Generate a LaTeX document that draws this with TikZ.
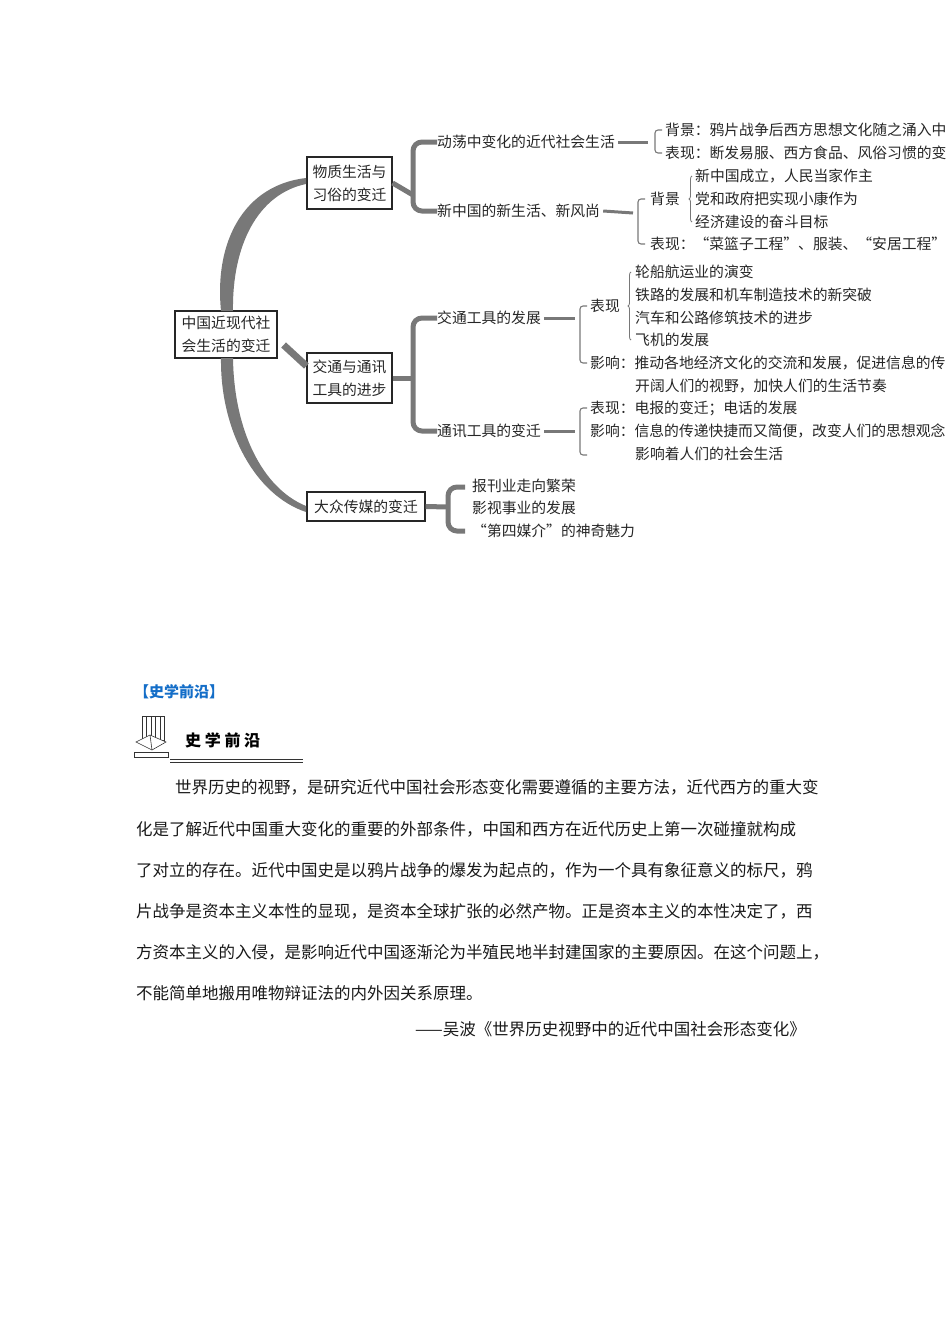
\documentclass[tikz,border=0pt]{standalone}
\usepackage{fontspec}
\setmainfont{Noto Sans CJK SC}
\usetikzlibrary{decorations.pathreplacing}
\definecolor{lg}{RGB}{120,120,120}
\definecolor{hb}{RGB}{20,110,200}
\begin{document}
\begin{tikzpicture}[x=1pt,y=-1pt,
 t/.style={anchor=west,inner sep=0pt,font=\fontsize{14.8}{17}\selectfont,text=black!85},
 bx/.style={draw=black!85,line width=1.2pt,inner sep=3pt,align=center,font=\fontsize{14.8}{23}\selectfont,text=black!85},
 thick/.style={draw=lg,line width=5pt,rounded corners=9pt},
 thin/.style={draw=lg,line width=1.1pt,rounded corners=3pt},
 cb/.style={draw=lg,line width=0.8pt,decorate,decoration={brace,mirror,amplitude=3pt}},
 p/.style={anchor=west,inner sep=0pt,font=\fontsize{16.5}{20}\selectfont,text=black!90}]
\useasboundingbox (0,0) rectangle (950,1344);
% level 1
\node[bx,minimum width=102pt,minimum height=47pt] (root) at (226,334.5) {中国近现代社\\会生活的变迁};
\node[bx,minimum width=85pt,minimum height=52pt] (b1) at (349.5,183) {物质生活与\\习俗的变迁};
\node[bx,minimum width=85pt,minimum height=50pt] (b2) at (349.5,378) {交通与通讯\\工具的进步};
\node[bx,minimum width=118pt,minimum height=29pt] (b3) at (366,506.5) {大众传媒的变迁};
% arcs
\fill[lg] (221,311) .. controls (214,240) and (245,185) .. (306,178) -- (306,184) .. controls (258,194) and (232,245) .. (233,311) -- cycle;
\fill[lg] (221,358) .. controls (220,430) and (255,495) .. (306,512) -- (306,506) .. controls (262,488) and (234,430) .. (233,358) -- cycle;
\draw[lg,line width=7pt] (root.east|-0,345) ++(6,0) -- (b2.west|-0,366);
% level 2
\node[t] (a1) at (437,142) {动荡中变化的近代社会生活};
\node[t] (a2) at (437,211) {新中国的新生活、新风尚};
\node[t] (a3) at (437,318) {交通工具的发展};
\node[t] (a4) at (437,431) {通讯工具的变迁};
\draw[thick] (a1.west) -| (413,211) -- (a2.west);
\draw[lg,line width=5pt] (b1.east) -- (413,195);
\draw[thick] (a3.west) -| (413,431) -- (a4.west);
\draw[lg,line width=5pt] (b2.east) -- (413,378);
\node[t] (m1) at (472,486) {报刊业走向繁荣};
\node[t] (m2) at (472,508) {影视事业的发展};
\node[t] (m3) at (472,531) {“第四媒介”的神奇魅力};
\draw[thick] (465,487) -| (448,531) -- (465,531);
\draw[lg,line width=5pt] (b3.east) -- (448,507);
% branch 1
\draw[lg,line width=3pt] (a1.east) ++(3,0) -- (648,142);
\draw[thin] (662,130) -| (655,153) -- (662,153);
\node[t] at (665,130) {背景：鸦片战争后西方思想文化随之涌入中};
\node[t] at (665,153) {表现：断发易服、西方食品、风俗习惯的变};
% branch 2
\draw[lg,line width=3pt] (a2.east) ++(3,0) -- (633,213);
\draw[thin] (645,199) -| (638,244) -- (645,244);
\node[t] at (650,199) {背景};
\draw[cb] (692,176) -- (692,222);
\node[t] at (695,176) {新中国成立，人民当家作主};
\node[t] at (695,199) {党和政府把实现小康作为};
\node[t] at (695,222) {经济建设的奋斗目标};
\node[t] at (650,244) {表现：“菜篮子工程”、服装、“安居工程”};
% branch 3
\draw[lg,line width=3pt] (a3.east) ++(3,0) -- (575,318);
\draw[thin] (587,306) -| (580,363) -- (587,363);
\node[t] at (590,306) {表现};
\draw[cb] (631,272) -- (631,340);
\node[t] at (635,272) {轮船航运业的演变};
\node[t] at (635,295) {铁路的发展和机车制造技术的新突破};
\node[t] at (635,318) {汽车和公路修筑技术的进步};
\node[t] at (635,340) {飞机的发展};
\node[t] at (590,363) {影响：推动各地经济文化的交流和发展，促进信息的传};
\node[t] at (635,386) {开阔人们的视野，加快人们的生活节奏};
% branch 4
\draw[lg,line width=3pt] (a4.east) ++(3,0) -- (575,431);
\draw[thin] (587,408) -| (580,455) -- (587,455);
\node[t] at (590,408) {表现：电报的变迁；电话的发展};
\node[t] at (590,431) {影响：信息的传递快捷而又简便，改变人们的思想观念};
\node[t] at (635,454) {影响着人们的社会生活};
% lower part
\node[anchor=west,inner sep=0pt,font=\fontsize{15}{18}\selectfont\bfseries,text=hb] (hd) at (134,692) {【史学前沿】};
% icon
\begin{scope}[draw=black!80,line width=0.6pt]
\foreach \i in {0,1,2,3,4}{\draw (142+\i*4.5,716) rectangle (146.5+\i*4.5,740);}
\draw[fill=white] (136,742) -- (150,735) -- (166,742) -- (152,750) -- cycle;
\draw (150,735) -- (152,750);
\draw (134,752) rectangle (168,757);
\end{scope}
\node[anchor=west,inner sep=0pt,font=\fontsize{16}{18}\selectfont\bfseries] (h2) at (185,740) {史 学 前 沿};
\draw[black!80,line width=0.8pt] (170,759) -- (303,759);
\draw[black!80,line width=0.4pt] (170,762) -- (303,762);
\node[p] at (175,787) {世界历史的视野，是研究近代中国社会形态变化需要遵循的主要方法，近代西方的重大变};
\node[p] at (136,829) {化是了解近代中国重大变化的重要的外部条件，中国和西方在近代历史上第一次碰撞就构成};
\node[p] at (136,870) {了对立的存在。近代中国史是以鸦片战争的爆发为起点的，作为一个具有象征意义的标尺，鸦};
\node[p] at (136,911) {片战争是资本主义本性的显现，是资本全球扩张的必然产物。正是资本主义的本性决定了，西};
\node[p] at (136,952) {方资本主义的入侵，是影响近代中国逐渐沦为半殖民地半封建国家的主要原因。在这个问题上，};
\node[p] at (136,993) {不能简单地搬用唯物辩证法的内外因关系原理。};
\node[p,anchor=east] at (806,1029) {——吴波《世界历史视野中的近代中国社会形态变化》};
\end{tikzpicture}
\end{document}
